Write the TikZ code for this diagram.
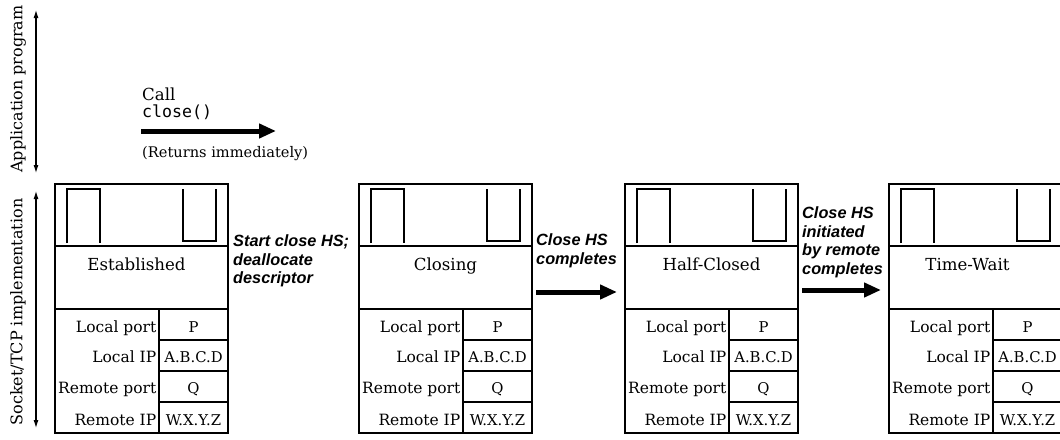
\documentclass[tikz,border=0pt]{standalone}
\usepackage{fontspec}
\setmainfont{DejaVu Serif}
\setmonofont{DejaVu Sans Mono}
\newfontfamily\hsfont{Liberation Sans}
\usepackage{tikz}
\usetikzlibrary{arrows.meta,positioning,calc}

\tikzset{
  boxline/.style={line width=1.3pt},
  secline/.style={line width=1.8pt},
  cellline/.style={line width=1.1pt},
  fieldlbl/.style={anchor=base east,inner sep=0pt,font=\fontsize{15.5}{18}\selectfont},
  fieldval/.style={anchor=base,inner sep=0pt,font=\fontsize{14.8}{18}\selectfont},
  statelbl/.style={anchor=base,inner sep=0pt},
  hslbl/.style={anchor=base west,inner sep=0pt,align=left,
    font=\hsfont\bfseries\itshape\fontsize{16.3}{18.4}\selectfont},
  bigarrow/.style={line width=5pt,-{Triangle[length=17pt,width=14pt]}},
  sidearrow/.style={line width=1.1pt,{Latex[length=8pt,width=5pt]}-{Latex[length=8pt,width=5pt]}},
  sidelbl/.style={rotate=90,inner sep=0pt,font=\fontsize{16}{18}\selectfont}
}

\begin{document}
\begin{tikzpicture}[x=1pt,y=-1pt,font=\fontsize{16.6}{19}\selectfont]
  \useasboundingbox (0,0) rectangle (1060,439);

  % layer arrows on the left
  \coordinate (appT) at (36,10);  \coordinate (appB) at (36,173);
  \coordinate (sockT) at (36,191); \coordinate (sockB) at (36,428);
  \draw[sidearrow] (appT) -- (appB);
  \draw[sidearrow] (sockT) -- (sockB);
  \node[sidelbl] (applbl) at (18,89) {Application program};
  \node[sidelbl] (socklbl) at (18,312) {Socket/TCP implementation};

  % application call
  \node[anchor=base west,inner sep=0pt] (call) at (142,100) {Call};
  \node[anchor=base west,inner sep=0pt] (closefn) at (142,117) {\ttfamily close()};
  \coordinate (callA) at (141,131); \coordinate (callB) at (276,131);
  \draw[bigarrow] (callA) -- (callB);
  \node[anchor=base west,inner sep=0pt,font=\fontsize{14.6}{17}\selectfont] (ret) at (142,157) {(Returns immediately)};

  % socket structures
  \foreach \bx/\dx/\st/\nm in {55/-5/Established/est,359/0/Closing/clo,625/0/Half-Closed/half,889/-8/Time-Wait/tw}{
    \draw[boxline] (\bx,184) rectangle (\bx+173,433);
    \draw[secline] (\bx,246) -- (\bx+173,246);
    \draw[secline] (\bx,309) -- (\bx+173,309);
    \draw[cellline] (\bx+104,309) -- (\bx+104,433);
    \foreach \cy in {340,371,402}
      \draw[cellline] (\bx+104,\cy) -- (\bx+173,\cy);
    \draw[boxline] (\bx+12,243) -- (\bx+12,189) -- (\bx+45,189) -- (\bx+45,243);
    \draw[boxline] (\bx+128,189) -- (\bx+128,241) -- (\bx+161,241) -- (\bx+161,189);
    \node[statelbl] (\nm) at (\bx+86.5+\dx,270) {\st};
    \foreach \fy/\fl/\fv [count=\k] in {332/Local port/P,362/Local IP/A.B.C.D,393/Remote port/Q,425/Remote IP/W.X.Y.Z}{
      \node[fieldlbl] (\nm-l\k) at (\bx+101.5,\fy) {\fl};
      \node[fieldval] (\nm-v\k) at (\bx+138.5,\fy) {\fv};
    }
  }

  % transitions
  \node[hslbl] (hs1) at (233,283.5) {Start close HS;\\deallocate\\descriptor};
  \node[hslbl] (hs2) at (536,264) {Close HS\\completes};
  \coordinate (hs2A) at (536,292); \coordinate (hs2B) at (617,292);
  \draw[bigarrow] (hs2A) -- (hs2B);
  \node[hslbl] (hs3) at (802,274) {Close HS\\initiated\\by remote\\completes};
  \coordinate (hs3A) at (802,290); \coordinate (hs3B) at (881,290);
  \draw[bigarrow] (hs3A) -- (hs3B);
\end{tikzpicture}
\end{document}
